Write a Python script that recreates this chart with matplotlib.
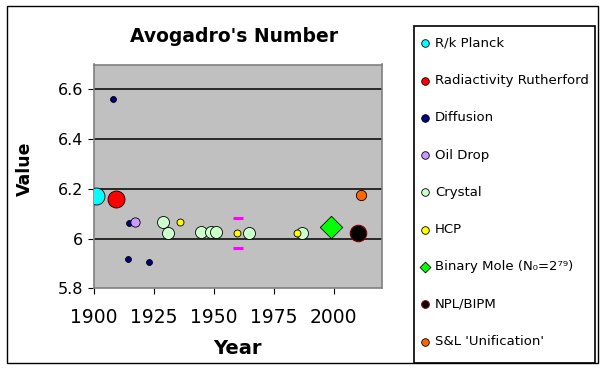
import matplotlib
matplotlib.use("Agg")
import matplotlib.pyplot as plt
from matplotlib.patches import Rectangle

# series data (year, value)
planck_year = [1901]
planck_val = [6.173]
rutherford_year = [1909]
rutherford_val = [6.16]
diffusion_year = [1908, 1914.5, 1914, 1923]
diffusion_val = [6.562, 6.062, 5.916, 5.906]
oildrop_year = [1917]
oildrop_val = [6.066]
crystal_year = [1928.7, 1930.8, 1944.6, 1949, 1950.8, 1964.6, 1986.7]
crystal_val = [6.066, 6.022, 6.028, 6.028, 6.028, 6.022, 6.022]
hcp_year = [1936, 1959.8, 1984.5]
hcp_val = [6.068, 6.022, 6.022]
hcp_err_year = [1960, 1960]
hcp_err_val = [6.084, 5.962]
binary_year = [1999]
binary_val = [6.047]
npl_year = [2010.3]
npl_val = [6.022]
sl_year = [2011.5]
sl_val = [6.176]

xticks = [1900, 1925, 1950, 1975, 2000]
yticks = [5.8, 6.0, 6.2, 6.4, 6.6]
ytick_labels = ["5.8", "6", "6.2", "6.4", "6.6"]

W, H = 604, 369
fig = plt.figure(figsize=(W / 100, H / 100), dpi=100)
ax = fig.add_axes([94 / W, 1 - 288.3 / H, (381.7 - 94) / W, (288.3 - 64.5) / H])
ax.set_facecolor("#C0C0C0")
for s in ax.spines.values():
    s.set_color("#808080")
    s.set_linewidth(1.2)

ax.set_xlim(1900, 2020)
ax.set_ylim(5.8, 6.7)
ax.set_xticks(xticks)
ax.set_yticks(yticks)
ax.set_yticklabels(ytick_labels)
ax.tick_params(axis="x", labelsize=13.5, length=4, pad=10)
ax.tick_params(axis="y", labelsize=11.5, length=4, pad=4)
for y in yticks[1:]:
    ax.axhline(y, color="black", lw=1.1, zorder=1)

ek = dict(edgecolors="black", linewidths=0.6, zorder=3)
handles = []
handles.append(ax.scatter(planck_year, planck_val, s=150, c="#00FFFF", label="R/k Planck", **ek))
handles.append(ax.scatter(rutherford_year, rutherford_val, s=150, c="#FF0000", label="Radiactivity Rutherford", **ek))
handles.append(ax.scatter(diffusion_year, diffusion_val, s=18, c="#000080", label="Diffusion", **ek))
handles.append(ax.scatter(oildrop_year, oildrop_val, s=45, c="#CC99FF", label="Oil Drop", **ek))
handles.append(ax.scatter(crystal_year, crystal_val, s=75, c="#CCFFCC", label="Crystal", **ek))
handles.append(ax.scatter(hcp_year, hcp_val, s=25, c="#FFFF00", label="HCP", **ek))
ax.scatter(hcp_err_year, hcp_err_val, s=45, marker="_", c="#FF00FF", linewidths=2.2, zorder=3)
handles.append(ax.scatter(binary_year, binary_val, s=130, marker="D", c="#00FF00",
                          label="Binary Mole (N\u2080=2\u2077\u2079)", **ek))
handles.append(ax.scatter(npl_year, npl_val, s=140, c="black", edgecolors="#800000",
                          linewidths=0.8, zorder=3, label="NPL/BIPM"))
handles.append(ax.scatter(sl_year, sl_val, s=55, c="#FF6600", label="S&L 'Unification'", **ek))

fig.text(234 / W, 1 - 36 / H, "Avogadro's Number", ha="center", va="center",
         fontsize=13.5, fontweight="bold")
fig.text(237.5 / W, 1 - 348 / H, "Year", ha="center", va="center",
         fontsize=14, fontweight="bold")
fig.text(25 / W, 1 - 169 / H, "Value", ha="center", va="center", rotation=90,
         fontsize=12.5, fontweight="bold")

leg = fig.legend(handles=handles, loc="upper left",
                 bbox_to_anchor=(419.7 / W, 1 - 36.8 / H), borderaxespad=0,
                 fontsize=9.5, labelspacing=1.84, handletextpad=0.36,
                 handlelength=0.8, borderpad=0, frameon=False,
                 scatterpoints=1)
for h in leg.legend_handles:
    h.set_sizes([30])

# legend box and outer chart border
fig.patches.append(Rectangle((413.5 / W, 1 - 363 / H), 181 / W, 337.5 / H,
                             transform=fig.transFigure, fill=False,
                             edgecolor="black", lw=1.2))
fig.patches.append(Rectangle((6.5 / W, 1 - 363 / H), 591 / W, 357 / H,
                             transform=fig.transFigure, fill=False,
                             edgecolor="black", lw=1.0))

fig.savefig("out.png", dpi=100)
